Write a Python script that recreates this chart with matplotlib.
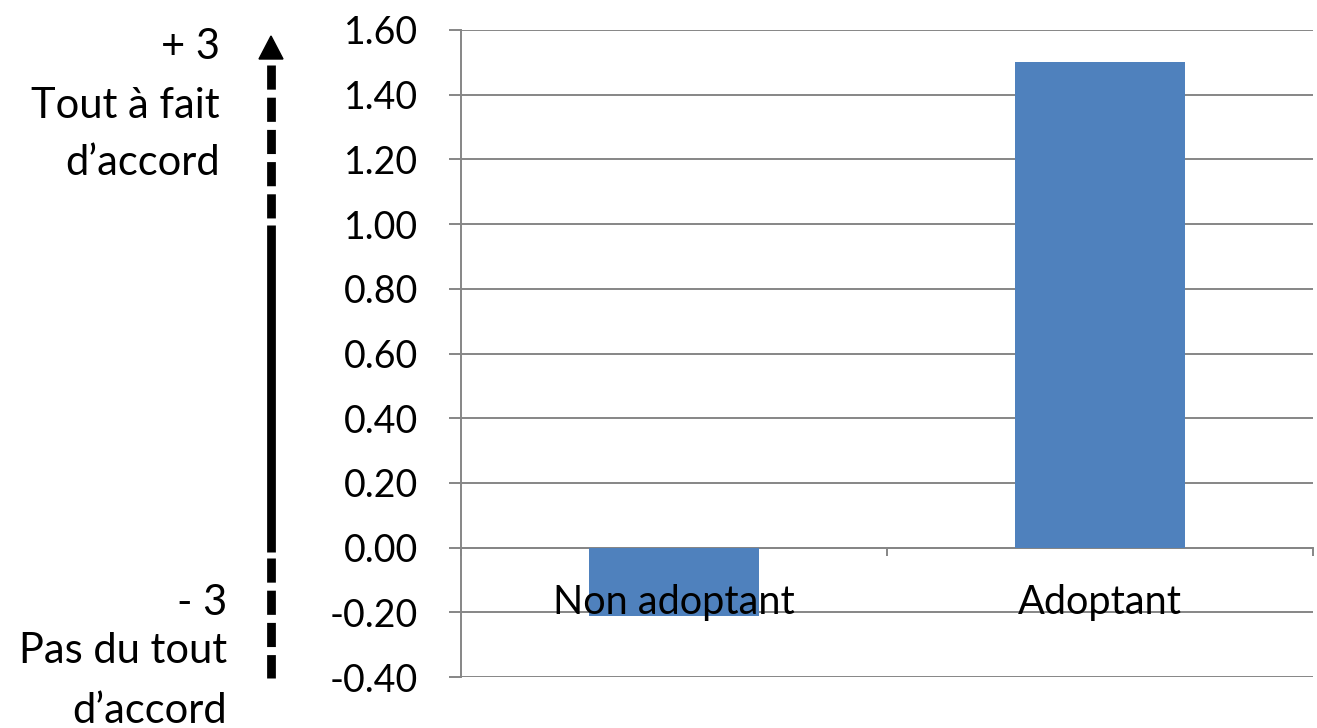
import matplotlib
matplotlib.use('Agg')
import matplotlib.pyplot as plt
from matplotlib.lines import Line2D

# données
categories = ['Non adoptant', 'Adoptant']
valeurs = [-0.21, 1.50]
yticks = [-0.40, -0.20, 0.00, 0.20, 0.40, 0.60, 0.80, 1.00, 1.20, 1.40, 1.60]

plt.rcParams['font.family'] = ['Lato', 'DejaVu Sans']
W, H = 1317, 728
fig = plt.figure(figsize=(W / 100, H / 100), dpi=100)

# zone du graphique (en pixels)
ax = fig.add_axes([461 / W, 1 - 677 / H, (1313 - 461) / W, (677 - 30) / H])
gris = '#868686'
ax.bar(range(len(categories)), valeurs, width=0.4, color='#4F81BD', zorder=3)
ax.set_xlim(-0.5, 1.5)
ax.set_ylim(-0.40, 1.60)
ax.set_yticks(yticks)
ax.set_yticklabels(['%.2f' % v for v in yticks], fontsize=27)
ax.yaxis.grid(True, color=gris, linewidth=1.4, zorder=0)
ax.tick_params(axis='y', length=9, width=1.4, color=gris, pad=22)
for s in ['top', 'right']:
    ax.spines[s].set_visible(False)
ax.spines['left'].set_color(gris)
ax.spines['left'].set_linewidth(1.4)
ax.spines['bottom'].set_position(('data', 0))
ax.spines['bottom'].set_color(gris)
ax.spines['bottom'].set_linewidth(1.4)
ax.set_xticks([-0.5, 0.5, 1.5])
ax.set_xticklabels([])
ax.tick_params(axis='x', length=6, width=1.4, color=gris, direction='out')
for i, nom in enumerate(categories):
    ax.annotate(nom, (i, 0), xytext=(0, -48), textcoords='offset points',
                ha='center', va='baseline', fontsize=28.5, zorder=5)

# échelle à gauche (flèche)
ov = fig.add_axes([0, 0, 1, 1])
ov.set_xlim(0, W)
ov.set_ylim(H, 0)
ov.axis('off')
xf = 271
tirets = (0, (2.76, 0.92))
ov.add_line(Line2D([xf, xf], [65, 225], color='black', lw=6.3, ls=tirets, dash_capstyle='butt'))
ov.add_line(Line2D([xf, xf], [225, 552], color='black', lw=6.3, solid_capstyle='butt'))
ov.add_line(Line2D([xf, xf], [558, 678], color='black', lw=6.3, ls=tirets, dash_capstyle='butt'))
ov.fill([xf - 12, xf + 12, xf], [59, 59, 36], color='black')

ov.text(220, 59, '+ 3', ha='right', va='baseline', fontsize=30)
ov.text(220, 118, 'Tout à fait', ha='right', va='baseline', fontsize=30)
ov.text(220, 175, 'd’accord', ha='right', va='baseline', fontsize=30)
ov.text(227, 615, '- 3', ha='right', va='baseline', fontsize=30)
ov.text(227, 663, 'Pas du tout', ha='right', va='baseline', fontsize=30)
ov.text(227, 723, 'd’accord', ha='right', va='baseline', fontsize=30)

fig.savefig('out.png', dpi=100)
